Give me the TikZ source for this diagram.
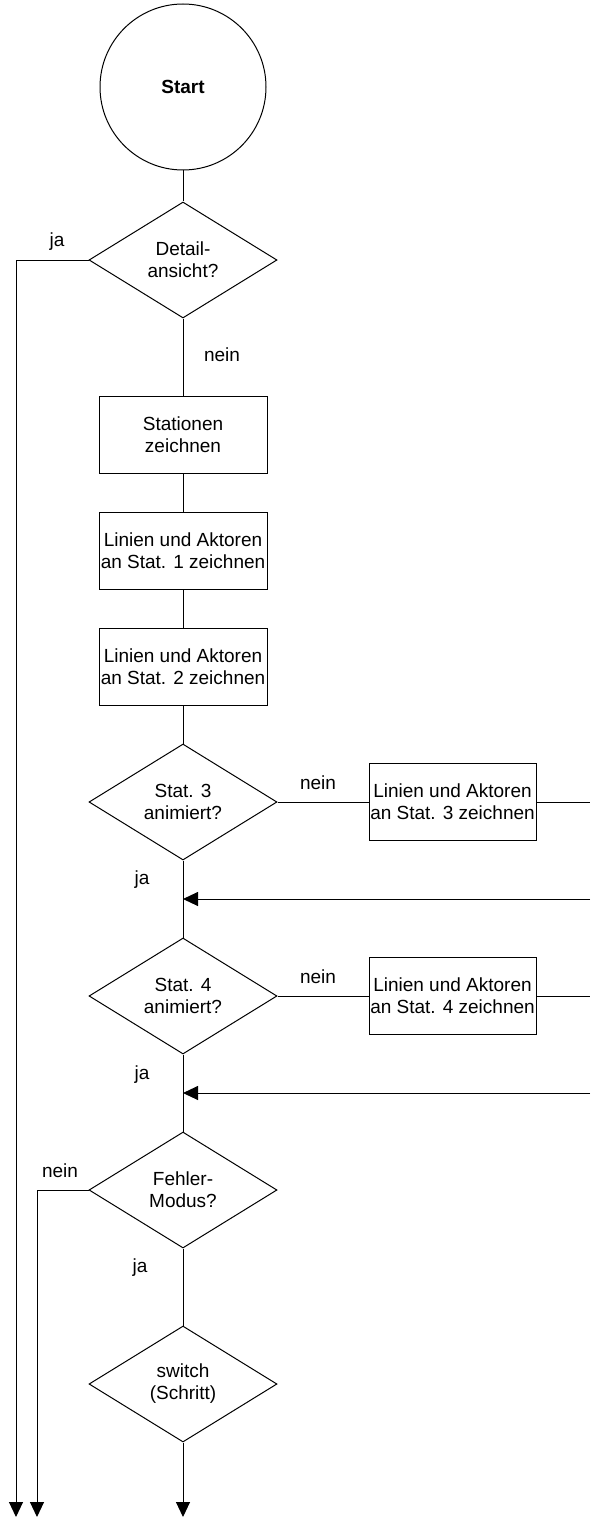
\documentclass[tikz,border=0pt]{standalone}
\usepackage{fontspec}
\setmainfont{Liberation Sans}
\usetikzlibrary{shapes.geometric,arrows.meta}
\begin{document}
\begin{tikzpicture}[x=1pt,y=-1pt,
  every node/.style={font=\fontsize{19}{22}\selectfont},
  conn/.style={draw=black,line width=1pt},
  arr/.style={conn,-{Triangle[length=15pt,width=14pt]}},
  decision/.style={diamond,draw,line width=1pt,minimum width=188pt,minimum height=116pt,aspect=1.62,inner sep=0pt,align=center},
  procbox/.style={rectangle,draw,line width=1pt,minimum width=168pt,minimum height=77pt,inner sep=0pt,align=center},
  lbl/.style={inner sep=0pt}
]
\useasboundingbox (0,0) rectangle (590,1517);
\node[circle,draw,line width=1pt,minimum size=166pt,inner sep=0pt,font=\fontsize{19}{22}\selectfont\bfseries] (start) at (183,87) {Start};
\node[decision] (d1) at (183,260) {Detail-\\ansicht?};
\node[procbox] (b1) at (183,434.5) {Stationen\\zeichnen};
\node[procbox] (b2) at (183,550.5) {Linien und Aktoren\\an Stat. 1 zeichnen};
\node[procbox] (b3) at (183,667) {Linien und Aktoren\\an Stat. 2 zeichnen};
\node[decision] (d3) at (183,802) {Stat. 3\\animiert?};
\node[procbox,minimum width=167pt] (r3) at (452.5,802) {Linien und Aktoren\\an Stat. 3 zeichnen};
\node[decision] (d4) at (183,996) {Stat. 4\\animiert?};
\node[procbox,minimum width=167pt] (r4) at (452.5,996) {Linien und Aktoren\\an Stat. 4 zeichnen};
\node[decision] (d5) at (183,1190) {Fehler-\\Modus?};
\node[decision] (d6) at (183,1384) {switch\\(Schritt)};

\node[lbl] (l1) at (57,242) {ja};
\node[lbl] (l2) at (222,355) {nein};
\node[lbl] (l3) at (318,783) {nein};
\node[lbl] (l4) at (142,880) {ja};
\node[lbl] (l5) at (318,977) {nein};
\node[lbl] (l6) at (142,1075) {ja};
\node[lbl] (l7) at (60,1171) {nein};
\node[lbl] (l8) at (140,1268) {ja};

\coordinate (e1) at (16,1517);
\coordinate (e2) at (37,1517);
\coordinate (e3) at (183,1517);
\coordinate (o3) at (590,802);
\coordinate (i3) at (590,899);
\coordinate (m3) at (183,899);
\coordinate (o4) at (590,996);
\coordinate (i4) at (590,1093);
\coordinate (m4) at (183,1093);

\draw[conn] (start) -- (d1);
\draw[arr] (d1.west) -| (e1);
\draw[conn] (d1) -- (b1);
\draw[conn] (b1) -- (b2);
\draw[conn] (b2) -- (b3);
\draw[conn] (b3) -- (d3);
\draw[conn] (d3.east) -- (r3.west);
\draw[conn] (r3.east) -- (o3);
\draw[arr] (i3) -- (m3);
\draw[conn] (d3) -- (d4);
\draw[conn] (d4.east) -- (r4.west);
\draw[conn] (r4.east) -- (o4);
\draw[arr] (i4) -- (m4);
\draw[conn] (d4) -- (d5);
\draw[arr] (d5.west) -| (e2);
\draw[conn] (d5) -- (d6);
\draw[arr] (d6.south) -- (e3);
\end{tikzpicture}
\end{document}
